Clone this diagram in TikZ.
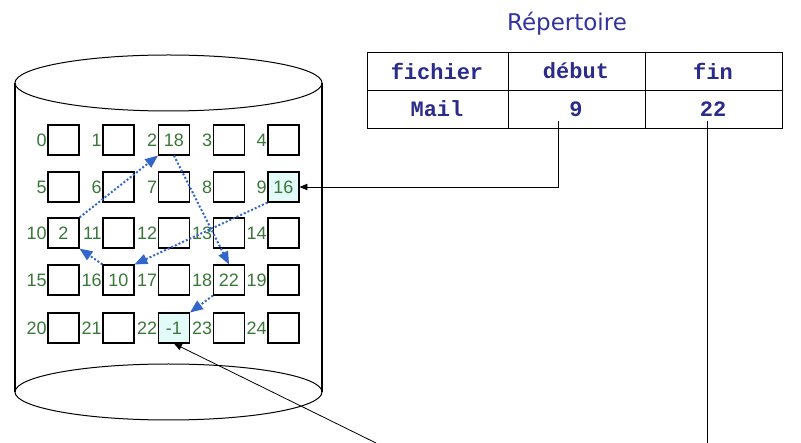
\documentclass[tikz,border=0pt]{standalone}
\usepackage{fontspec}
\setmainfont{Liberation Sans}
\setmonofont{Liberation Mono}
\newfontfamily\titrefont{DejaVu Sans}
\usepackage{xcolor}
\usepackage{tikz}
\usetikzlibrary{positioning}
\usetikzlibrary{arrows}
\usetikzlibrary{calc}

\definecolor{vertnum}{HTML}{3A773A}
\definecolor{bleutitre}{HTML}{3333A0}
\definecolor{bleutab}{HTML}{2B2B8C}
\definecolor{bleuchaine}{HTML}{3366CC}
\definecolor{cyanclair}{HTML}{E2FAF8}

\tikzset{
  bloc/.style={draw, line width=1.2pt, minimum width=31pt, minimum height=30pt,
    inner sep=0pt, text=vertnum, font=\fontsize{18}{20}\selectfont},
  numero/.style={text=vertnum, font=\fontsize{18}{20}\selectfont, inner sep=0.5pt},
  chaine/.style={-triangle 45, bleuchaine, dotted, line width=2pt},
  tabtexte/.style={text=bleutab, font=\fontsize{22}{24}\ttfamily\bfseries},
}

\begin{document}
\begin{tikzpicture}[x=1pt,y=-1pt]
\useasboundingbox (0,0) rectangle (801,443);

% disque
\draw[line width=1pt] (168.5,83) ellipse (153.5pt and 28pt);
\draw[line width=1.8pt] (15,83) -- (15,392);
\draw[line width=1.8pt] (322,83) -- (322,392);
\draw[line width=1pt] (168.5,392) ellipse (153.5pt and 28pt);

% blocs
\node[bloc, label={[numero]left:0}] (b0) at (63.5,140) {};
\node[bloc, label={[numero]left:1}] (b1) at (118.5,140) {};
\node[bloc, label={[numero]left:2}] (b2) at (174,140) {18};
\node[bloc, label={[numero]left:3}] (b3) at (229,140) {};
\node[bloc, label={[numero]left:4}] (b4) at (283.5,140) {};

\node[bloc, label={[numero]left:5}] (b5) at (63.5,187) {};
\node[bloc, label={[numero]left:6}] (b6) at (118.5,187) {};
\node[bloc, label={[numero]left:7}] (b7) at (174,187) {};
\node[bloc, label={[numero]left:8}] (b8) at (229,187) {};
\node[bloc, fill=cyanclair, label={[numero]left:9}] (b9) at (283.5,187) {16};

\node[bloc, label={[numero]left:10}] (b10) at (63.5,233) {2};
\node[bloc, label={[numero]left:11}] (b11) at (118.5,233) {};
\node[bloc, label={[numero]left:12}] (b12) at (174,233) {};
\node[bloc, label={[numero]left:13}] (b13) at (229,233) {};
\node[bloc, label={[numero]left:14}] (b14) at (283.5,233) {};

\node[bloc, label={[numero]left:15}] (b15) at (63.5,280) {};
\node[bloc, label={[numero]left:16}] (b16) at (118.5,280) {10};
\node[bloc, label={[numero]left:17}] (b17) at (174,280) {};
\node[bloc, label={[numero]left:18}] (b18) at (229,280) {22};
\node[bloc, label={[numero]left:19}] (b19) at (283.5,280) {};

\node[bloc, label={[numero]left:20}] (b20) at (63.5,328) {};
\node[bloc, label={[numero]left:21}] (b21) at (118.5,328) {};
\node[bloc, fill=cyanclair, label={[numero]left:22}] (b22) at (174,328) {-1};
\node[bloc, label={[numero]left:23}] (b23) at (229,328) {};
\node[bloc, label={[numero]left:24}] (b24) at (283.5,328) {};

% chainage
\draw[chaine] (b9.south west) -- (b16.north east);
\draw[chaine] (b16.north west) -- (b10.south east);
\draw[chaine] (b10.north east) -- (b2.south west);
\draw[chaine] (b2.south) -- (b18.north);
\draw[chaine] (b18.south west) -- (b22.north east);

% repertoire
\node[font=\titrefont\fontsize{23}{26}\selectfont, text=bleutitre] (titre) at (567,24) {Répertoire};

\draw[line width=0.8pt] (367,52) rectangle (508,90);
\draw[line width=0.8pt] (508,52) rectangle (645,90);
\draw[line width=0.8pt] (645,52) rectangle (782,90);
\draw[line width=0.8pt] (367,90) rectangle (508,128);
\draw[line width=0.8pt] (508,90) rectangle (645,128);
\draw[line width=0.8pt] (645,90) rectangle (782,128);

\node[tabtexte] (fichier) at (437,71) {fichier};
\node[tabtexte] (debut) at (576,71) {début};
\node[tabtexte] (fin) at (713,71) {fin};
\node[tabtexte] (mail) at (437,109) {Mail};
\node[tabtexte] (debval) at (576,109) {9};
\node[tabtexte] (finval) at (713,109) {22};

% pointeurs
\coordinate (debhaut) at (558,121);
\coordinate (finhaut) at (707,121);
\coordinate (finbas) at (707,443);
\coordinate (source) at (376,443);

\draw[-triangle 45, line width=0.8pt] (debhaut) |- (b9.east);
\draw[line width=0.8pt] (finhaut) -- (finbas);
\draw[-triangle 45, line width=0.8pt] (source) -- (b22.south);
\end{tikzpicture}
\end{document}
